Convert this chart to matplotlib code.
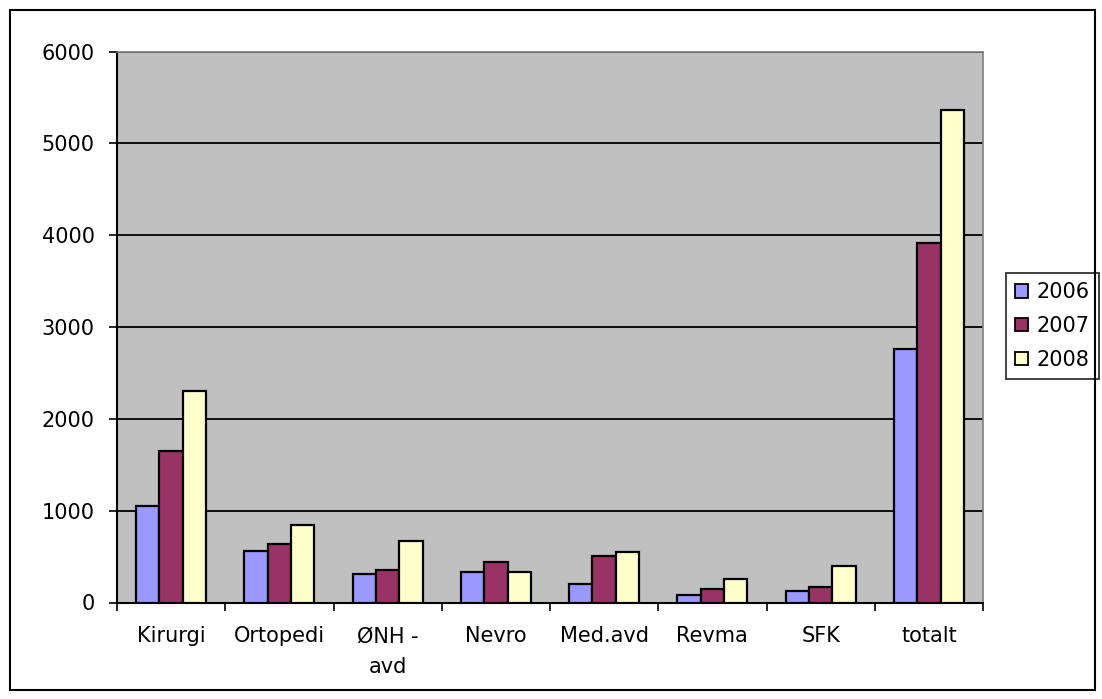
import matplotlib.pyplot as plt
import numpy as np
from matplotlib.patches import Rectangle

plt.rcParams['font.family'] = ['DejaVu Sans']

categories = ['Kirurgi', 'Ortopedi', 'ØNH -\navd', 'Nevro', 'Med.avd', 'Revma', 'SFK', 'totalt']
years = ['2006', '2007', '2008']
v2006 = [1055, 565, 315, 335, 205, 80, 122, 2763]
v2007 = [1655, 635, 355, 443, 503, 144, 166, 3917]
v2008 = [2307, 848, 673, 334, 547, 253, 398, 5364]
colors = ['#9999FF', '#993366', '#FFFFCC']

fig = plt.figure(figsize=(11.02, 6.99), dpi=100)
ax = fig.add_axes([117 / 1102, 96.5 / 699, 866 / 1102, 551 / 699])
ax.set_facecolor('#C0C0C0')

x = np.arange(len(categories))
w = 0.215
for i, (vals, c, yr) in enumerate(zip([v2006, v2007, v2008], colors, years)):
    ax.bar(x + (i - 1) * w, vals, w, color=c, edgecolor='black', linewidth=1.6,
           label=yr, zorder=3)

ax.set_xlim(-0.5, len(categories) - 0.5)
ax.set_ylim(0, 6000)
ax.set_yticks(range(0, 6001, 1000))
ax.yaxis.grid(True, color='black', linewidth=1.3, zorder=1)
ax.set_axisbelow(True)

# ticks between categories, labels centred
ax.set_xticks(np.arange(-0.5, len(categories), 1.0))
ax.set_xticklabels([])
ax.set_xticks(x, minor=True)
ax.set_xticklabels(categories, minor=True, fontsize=15, linespacing=1.65, va='top')
ax.tick_params(axis='x', which='minor', length=0, pad=17)
ax.tick_params(axis='x', which='major', length=6, width=1.2, direction='out')
ax.tick_params(axis='y', length=6, width=1.2, labelsize=15, pad=10)

for s in ['top', 'right']:
    ax.spines[s].set_color('#808080')
    ax.spines[s].set_linewidth(1.2)
for s in ['left', 'bottom']:
    ax.spines[s].set_linewidth(1.5)

leg = ax.legend(loc='center left', bbox_to_anchor=(1006 / 1102, (699 - 326) / 699),
                bbox_transform=fig.transFigure, fontsize=15, frameon=True,
                fancybox=False, edgecolor='black', handlelength=0.6, handleheight=0.6,
                handletextpad=0.4, borderpad=0.45, labelspacing=0.65, borderaxespad=0)
leg.get_frame().set_linewidth(1.3)
for h in leg.legend_handles:
    h.set_linewidth(1.3)

fig.patches.append(Rectangle((10 / 1102, 9 / 699), 1085 / 1102, 680 / 699,
                             transform=fig.transFigure, fill=False,
                             edgecolor='black', linewidth=1.5))

fig.savefig('out.png', dpi=100)
plt.close()
